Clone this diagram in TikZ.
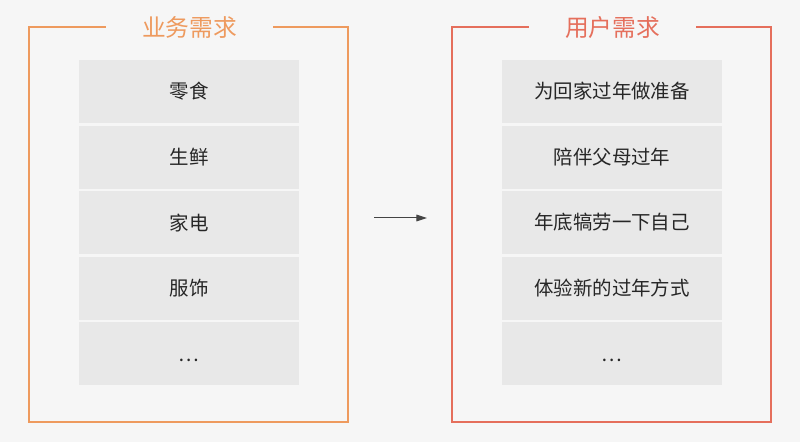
\documentclass[tikz,border=0pt]{standalone}
\usepackage{fontspec}
\setmainfont{Noto Sans CJK SC}
\usetikzlibrary{positioning,arrows.meta}
\definecolor{bgcol}{HTML}{F6F6F6}
\definecolor{boxcol}{HTML}{E8E8E8}
\definecolor{bizcol}{HTML}{EE9A5E}
\definecolor{usercol}{HTML}{E56F5C}
\definecolor{arrowcol}{HTML}{444444}
\begin{document}
\begin{tikzpicture}[x=0.75pt,y=-0.75pt,
        item/.style={fill=boxcol, minimum width=165pt, minimum height=47.25pt, inner sep=0pt,
            font=\fontsize{14.6}{17}\selectfont, text=black!85},
        dots/.style={item, text height=12pt, text depth=0pt},
        frametitle/.style={fill=bgcol, minimum width=125pt, inner sep=2pt,
            font=\fontsize{17.8}{20}\selectfont}]
    \fill[bgcol] (0,0) rectangle (800,442);
    \useasboundingbox (0,0) rectangle (800,442);
    % left frame: business needs
    \draw[bizcol, line width=1pt] (29,27) rectangle (348,422);
    \node[frametitle, text=bizcol] (biztitle) at (189.5,27) {业务需求};
    \node[item] (biz1) at (189,91.5) {零食};
    \node[item, below=1.5pt of biz1] (biz2) {生鲜};
    \node[item, below=1.5pt of biz2] (biz3) {家电};
    \node[item, below=1.5pt of biz3] (biz4) {服饰};
    \node[dots, below=1.5pt of biz4] (biz5) {…};
    % right frame: user needs
    \draw[usercol, line width=1pt] (452,27) rectangle (771,422);
    \node[frametitle, text=usercol] (usertitle) at (612.5,27) {用户需求};
    \node[item] (user1) at (612,91.5) {为回家过年做准备};
    \node[item, below=1.5pt of user1] (user2) {陪伴父母过年};
    \node[item, below=1.5pt of user2] (user3) {年底犒劳一下自己};
    \node[item, below=1.5pt of user3] (user4) {体验新的过年方式};
    \node[dots, below=1.5pt of user4] (user5) {…};
    % arrow between the two
    \coordinate (arrowstart) at (374,218);
    \coordinate (arrowend) at (427,218);
    \draw[arrowcol, line width=0.75pt, -{Triangle[length=8pt,width=5pt]}] (arrowstart) -- (arrowend);
\end{tikzpicture}
\end{document}
